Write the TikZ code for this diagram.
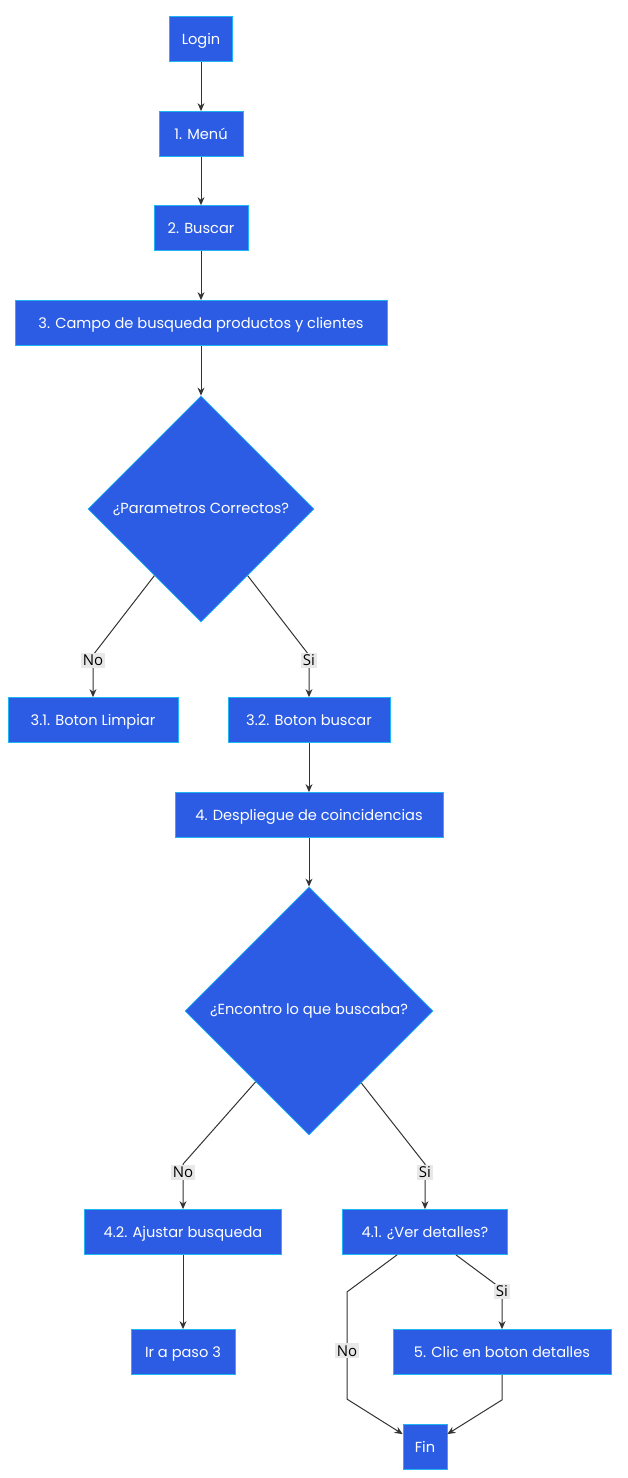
\documentclass[tikz,border=0pt]{standalone}
\usepackage{fontspec}
\setmainfont{Poppins}
\newfontfamily\lblfont{Open Sans}
\usetikzlibrary{shapes.geometric, arrows.meta}

\definecolor{boxfill}{HTML}{2B5CE3}
\definecolor{boxline}{HTML}{1FB4F2}
\definecolor{edgecol}{HTML}{333333}
\definecolor{lblfill}{HTML}{E8E8E8}

\begin{document}
\begin{tikzpicture}
		[
			x=1pt, y=-1pt,
			box/.style={rectangle, draw=boxline, fill=boxfill, text=white, line width=0.8pt,
				inner sep=0pt, text height=10.3pt, text depth=0pt, font=\fontsize{14.6}{16}\selectfont},
			dec/.style={diamond, draw=boxline, fill=boxfill, text=white, line width=0.8pt,
				inner sep=0pt, font=\fontsize{14.6}{16}\selectfont},
			flow/.style={draw=edgecol, line width=1pt, -{Stealth[length=8pt, width=7pt]}},
			lbl/.style={fill=lblfill, text=black, inner sep=2pt, font=\lblfont\fontsize{15}{17}\selectfont},
		]

		\useasboundingbox (0,0) rectangle (627,1478);

		% Nodes
		\foreach \style/\name/\x/\y/\w/\h/\text in
		{
			box/login/201/39/63/45/Login,
			box/menu/201/134/84/45/1. Menú,
			box/buscar/201/228/94/45/2. Buscar,
			box/campo/201/323/372/45/3. Campo de busqueda productos y clientes,
			dec/q1/201/509/226/226/¿Parametros Correctos?,
			box/b31/93/720/170/45/3.1. Boton Limpiar,
			box/b32/309/720/162/45/3.2. Boton buscar,
			box/desp/309/815/268/45/4. Despliegue de coincidencias,
			dec/q2/309/1011/248/248/¿Encontro lo que buscaba?,
			box/ajus/183/1232/197/45/4.2. Ajustar busqueda,
			box/ver/425/1232/165/45/4.1. ¿Ver detalles?,
			box/paso/183/1352/104/45/Ir a paso 3,
			box/clic/502/1352/218/45/5. Clic en boton detalles,
			box/fin/425/1447/44/45/Fin
		}
			\node[\style, minimum width=\w pt, minimum height=\h pt] (\name) at (\x,\y) {\text};

		% Straight steps
		\foreach \u/\v in {login/menu, menu/buscar, buscar/campo, campo/q1, b32/desp, desp/q2, ajus/paso}
			\draw[flow] (\u) -- (\v);

		% Decisions
		\draw[flow] (q1.-125) -- ([yshift=42pt]b31.north) node[lbl, yshift=-5pt] {No} -- (b31);
		\draw[flow] (q1.-55) -- ([yshift=42pt]b32.north) node[lbl, yshift=-5pt] {Si} -- (b32);
		\draw[flow] (q2.-127) -- ([yshift=45pt]ajus.north) node[lbl, yshift=-8pt] {No} -- (ajus);
		\draw[flow] (q2.-54) -- ([yshift=45pt]ver.north) node[lbl, yshift=-8pt] {Si} -- (ver);
		\draw[flow] ([xshift=31pt]ver.south) -- ([yshift=40pt]clic.north) node[lbl, yshift=-2pt] {Si} -- (clic);
		\draw[flow] ([xshift=-28pt]ver.south) -- ([xshift=-78pt, yshift=-37pt]ver.south)
			-- node[lbl, pos=0.55] {No} ([xshift=-78pt, yshift=25pt]fin.north) -- (fin.150);
		\draw[flow] (clic.south) -- ([yshift=-25pt]clic.south) -- (fin.30);

		\end{tikzpicture}
\end{document}
